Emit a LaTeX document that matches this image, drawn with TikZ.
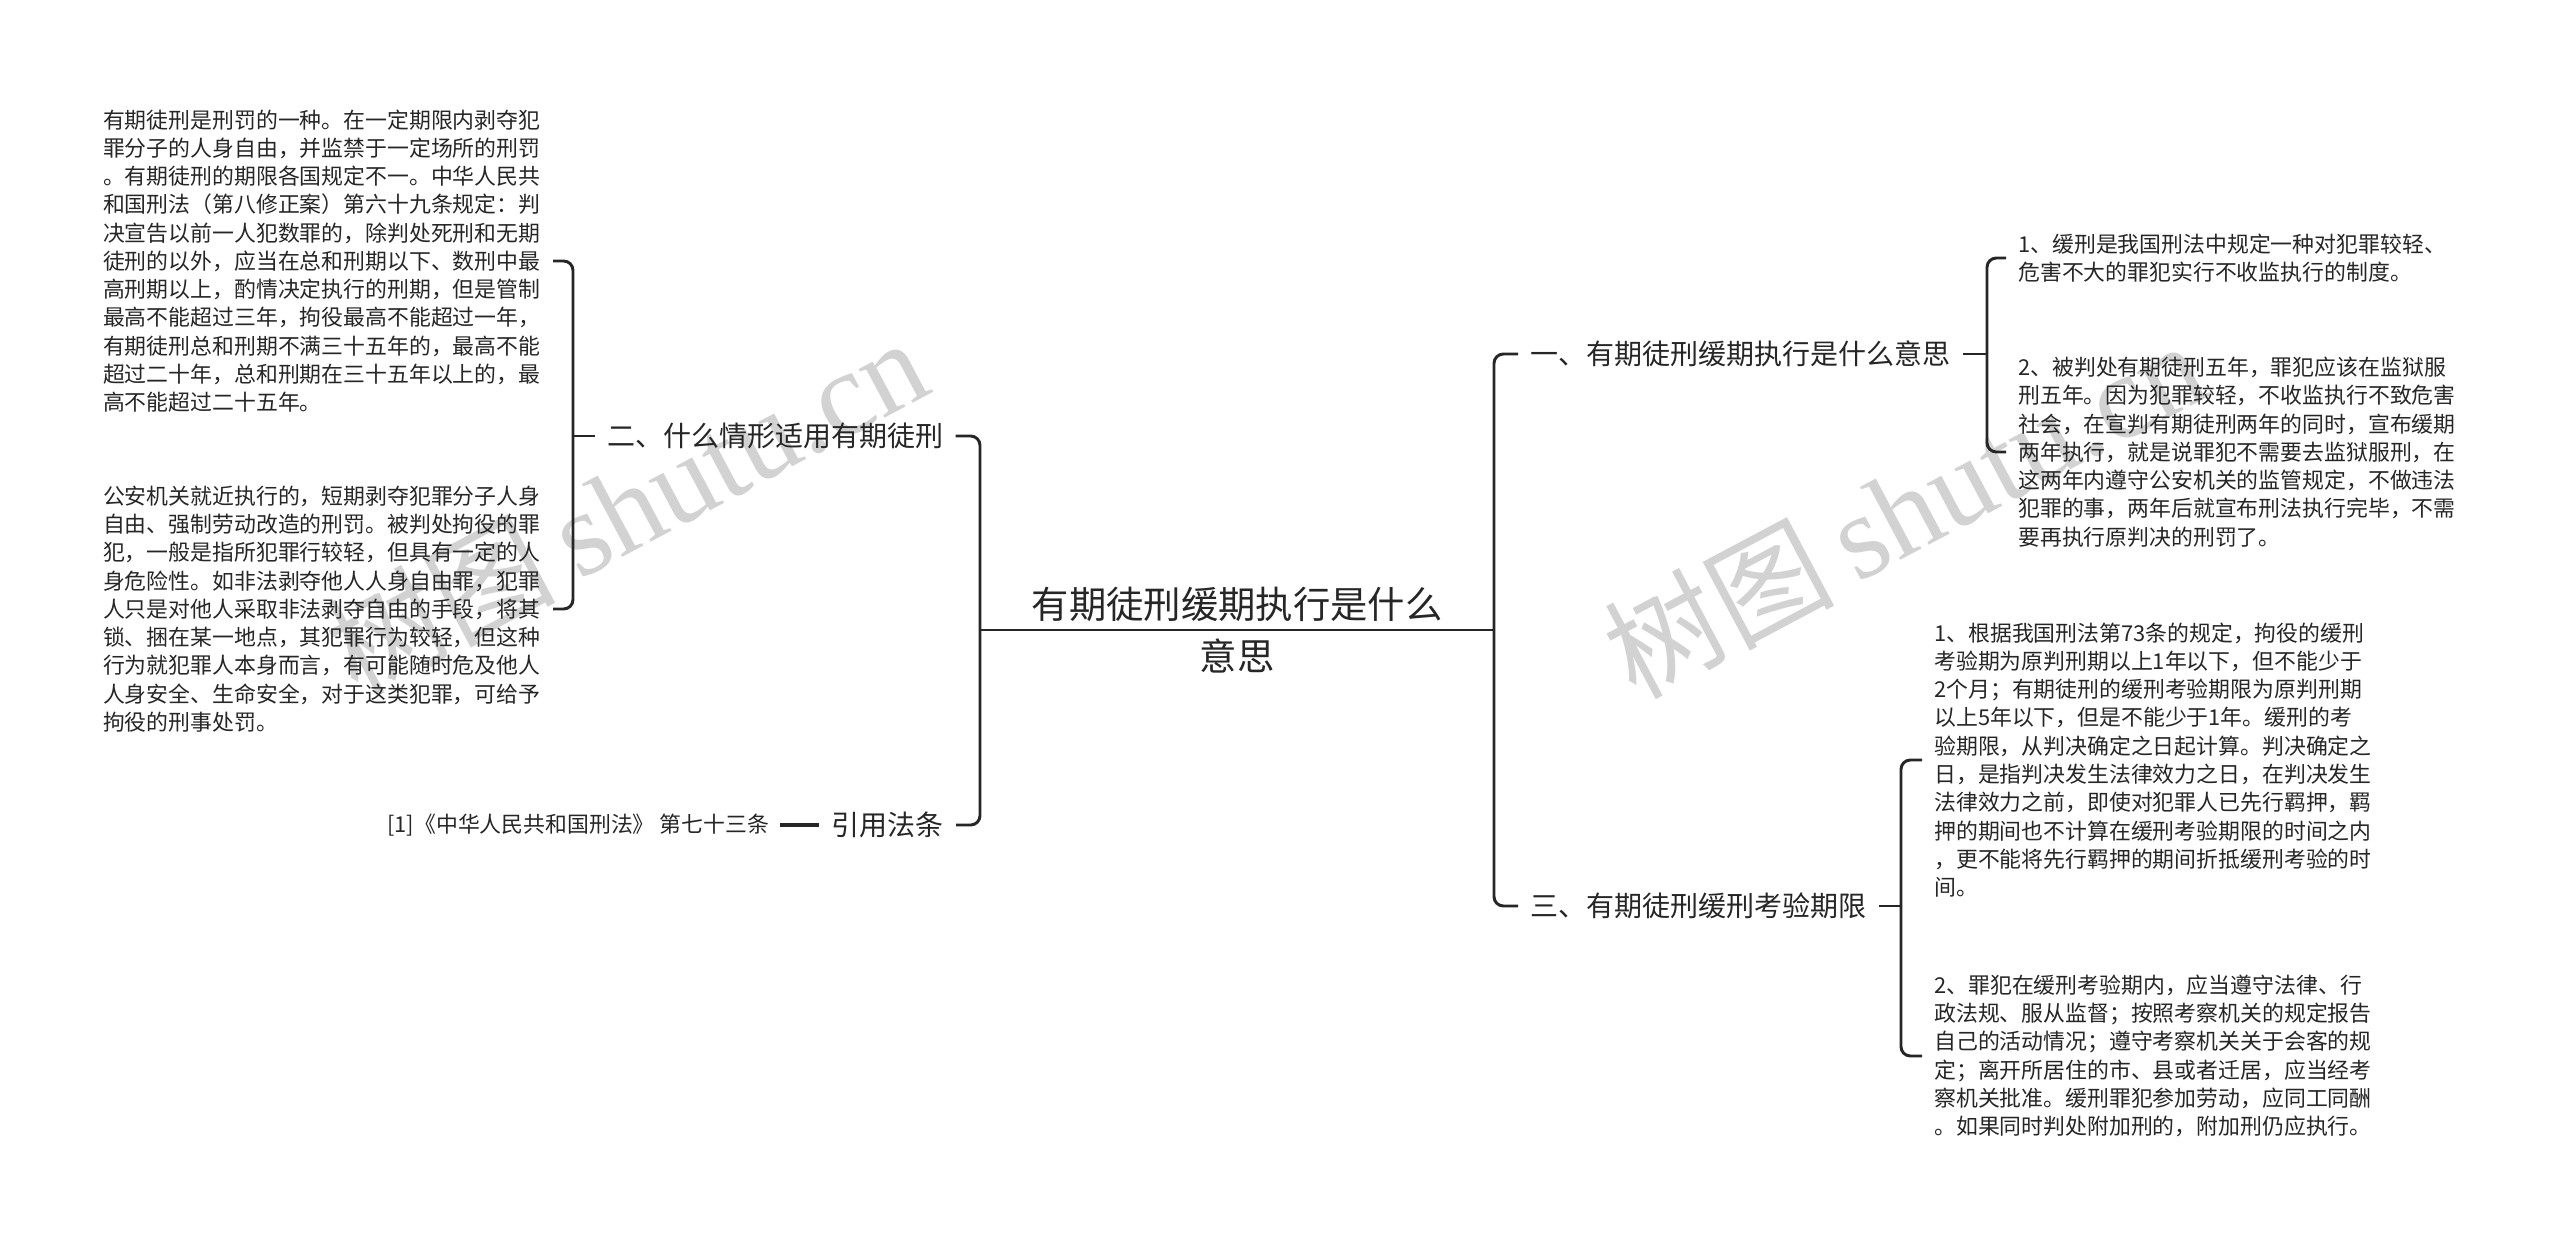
\documentclass[tikz,border=0pt]{standalone}
\usepackage{fontspec}
\setmainfont{Noto Sans CJK SC}
\newfontfamily\wmlatin{Liberation Serif}
\definecolor{ink}{HTML}{262626}
\definecolor{wmgray}{HTML}{D2D2D2}
\begin{document}
\begin{tikzpicture}[x=0.75pt,y=-0.75pt,
  conn/.style={draw=ink,line width=2.2pt,rounded corners=7pt},
  rootbox/.style={font=\fontsize{28pt}{39pt}\selectfont,text=ink,align=center,inner sep=0pt},
  branch/.style={font=\fontsize{21pt}{25pt}\selectfont,text=ink,inner xsep=9pt,inner ysep=3pt},
  leafL/.style={font=\fontsize{16.4pt}{21.2pt}\selectfont,text=ink,align=left,inner xsep=8.25pt,inner ysep=0pt,text width=329pt},
  leafR/.style={font=\fontsize{16.4pt}{21.2pt}\selectfont,text=ink,align=left,inner xsep=9pt,inner ysep=0pt,text width=345pt},
  refnote/.style={font=\fontsize{16.4pt}{21.2pt}\selectfont,text=ink,inner xsep=8pt,inner ysep=2pt},
  wmark/.style={text=wmgray,inner sep=0pt,rotate=28}]
\useasboundingbox[fill=white] (0,0) rectangle (2560,1243);

% watermarks
\node[wmark] (wmL) at (626,506) {\fontsize{86pt}{86pt}\selectfont 树图\hspace{16pt}{\wmlatin\fontsize{90pt}{90pt}\selectfont shutu.cn}};
\node[wmark] (wmR) at (1904,509) {\fontsize{86pt}{86pt}\selectfont 树图\hspace{16pt}{\wmlatin\fontsize{90pt}{90pt}\selectfont shutu.cn}};

% root
\coordinate (rL) at (980,630);
\coordinate (rR) at (1494,630);
\draw[conn] (rL) -- (rR);
\node[rootbox] (root) at (1237,630) {有期徒刑缓期执行是什么\\意思};

% first-level branches
\node[branch,anchor=west] (n2) at (595,436) {二、什么情形适用有期徒刑};
\node[branch,anchor=east] (n4) at (956,825) {引用法条};
\node[branch,anchor=west] (n1) at (1518,354) {一、有期徒刑缓期执行是什么意思};
\node[branch,anchor=west] (n3) at (1518,906) {三、有期徒刑缓刑考验期限};

\draw[conn] (n2.east) -| (rL);
\draw[conn] (n4.east) -| (rL);
\draw[conn] (n1.west) -| (rR);
\draw[conn] (n3.west) -| (rR);

% reference note
\node[refnote,anchor=east] (n5) at (780,825) {[1]《中华人民共和国刑法》 第七十三条};
\draw[conn,line width=3pt] (n5.east) -- (n4.west);

% left leaves
\node[leafL,anchor=east] (t1) at (553,261) {有期徒刑是刑罚的一种。在一定期限内剥夺犯\\
罪分子的人身自由，并监禁于一定场所的刑罚\\
。有期徒刑的期限各国规定不一。中华人民共\\
和国刑法（第八修正案）第六十九条规定：判\\
决宣告以前一人犯数罪的，除判处死刑和无期\\
徒刑的以外，应当在总和刑期以下、数刑中最\\
高刑期以上，酌情决定执行的刑期，但是管制\\
最高不能超过三年，拘役最高不能超过一年，\\
有期徒刑总和刑期不满三十五年的，最高不能\\
超过二十年，总和刑期在三十五年以上的，最\\
高不能超过二十五年。};
\node[leafL,anchor=east] (t2) at (553,609) {公安机关就近执行的，短期剥夺犯罪分子人身\\
自由、强制劳动改造的刑罚。被判处拘役的罪\\
犯，一般是指所犯罪行较轻，但具有一定的人\\
身危险性。如非法剥夺他人人身自由罪，犯罪\\
人只是对他人采取非法剥夺自由的手段，将其\\
锁、捆在某一地点，其犯罪行为较轻，但这种\\
行为就犯罪人本身而言，有可能随时危及他人\\
人身安全、生命安全，对于这类犯罪，可给予\\
拘役的刑事处罚。};
\coordinate (b2) at (573,436);
\draw[conn] (n2.west) -- (b2);
\draw[conn] (t1.east) -| (b2);
\draw[conn] (t2.east) -| (b2);

% right leaves of branch one
\node[leafR,anchor=west] (t5) at (2006,258) {1、缓刑是我国刑法中规定一种对犯罪较轻、\\
危害不大的罪犯实行不收监执行的制度。};
\node[leafR,anchor=west] (t6) at (2006,452) {2、被判处有期徒刑五年，罪犯应该在监狱服\\
刑五年。因为犯罪较轻，不收监执行不致危害\\
社会，在宣判有期徒刑两年的同时，宣布缓期\\
两年执行，就是说罪犯不需要去监狱服刑，在\\
这两年内遵守公安机关的监管规定，不做违法\\
犯罪的事，两年后就宣布刑法执行完毕，不需\\
要再执行原判决的刑罚了。};
\coordinate (b1) at (1987,354);
\draw[conn] (n1.east) -- (b1);
\draw[conn] (t5.west) -| (b1);
\draw[conn] (t6.west) -| (b1);

% right leaves of branch three
\node[leafR,anchor=west] (t7) at (1922,760) {1、根据我国刑法第73条的规定，拘役的缓刑\\
考验期为原判刑期以上1年以下，但不能少于\\
2个月；有期徒刑的缓刑考验期限为原判刑期\\
以上5年以下，但是不能少于1年。缓刑的考\\
验期限，从判决确定之日起计算。判决确定之\\
日，是指判决发生法律效力之日，在判决发生\\
法律效力之前，即使对犯罪人已先行羁押，羁\\
押的期间也不计算在缓刑考验期限的时间之内\\
，更不能将先行羁押的期间折抵缓刑考验的时\\
间。};
\node[leafR,anchor=west] (t8) at (1922,1056) {2、罪犯在缓刑考验期内，应当遵守法律、行\\
政法规、服从监督；按照考察机关的规定报告\\
自己的活动情况；遵守考察机关关于会客的规\\
定；离开所居住的市、县或者迁居，应当经考\\
察机关批准。缓刑罪犯参加劳动，应同工同酬\\
。如果同时判处附加刑的，附加刑仍应执行。};
\coordinate (b3) at (1901,906);
\draw[conn] (n3.east) -- (b3);
\draw[conn] (t7.west) -| (b3);
\draw[conn] (t8.west) -| (b3);
\end{tikzpicture}
\end{document}
